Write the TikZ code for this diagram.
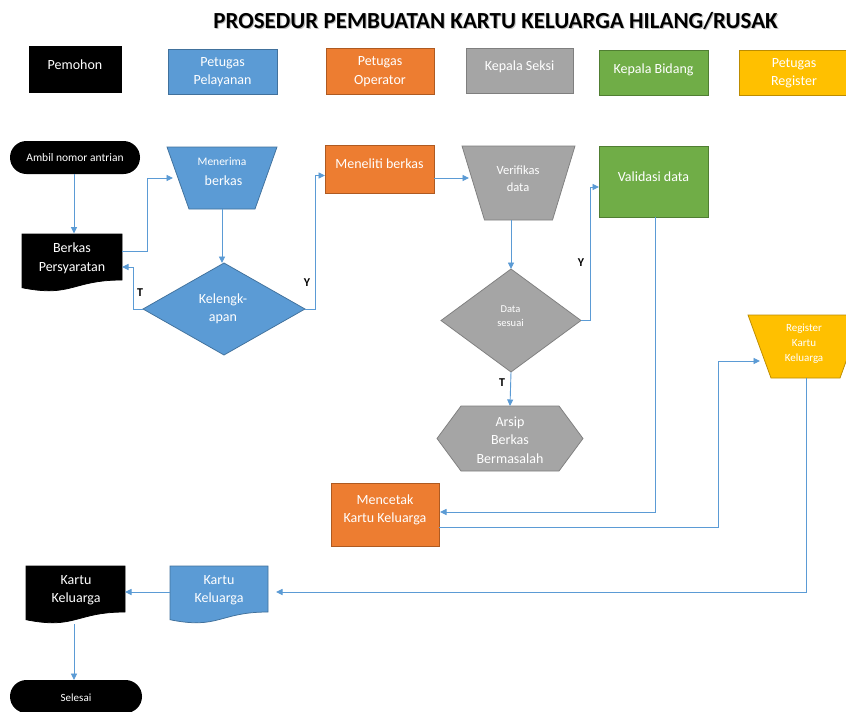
\documentclass[tikz,border=0pt]{standalone}
\usepackage{fontspec}
\setmainfont{Carlito}
\usetikzlibrary{calc,arrows.meta}
\definecolor{blueF}{HTML}{5B9BD5}
\definecolor{blueD}{HTML}{41719C}
\definecolor{orangeF}{HTML}{ED7D31}
\definecolor{orangeD}{HTML}{AE5A21}
\definecolor{grayF}{HTML}{A5A5A5}
\definecolor{grayD}{HTML}{7F7F7F}
\definecolor{greenF}{HTML}{70AD47}
\definecolor{greenD}{HTML}{507E32}
\definecolor{goldF}{HTML}{FFC000}
\definecolor{goldD}{HTML}{BC8C00}
\definecolor{lineC}{HTML}{5B9BD5}
\tikzset{
  frame/.style={rectangle, inner sep=0pt, outer sep=0pt},
  shapeline/.style={line width=0.75pt},
  txt/.style={text=white, inner sep=0pt, align=center, font=\fontsize{14}{18.5}\selectfont},
  smalltxt/.style={text=white, inner sep=0pt, align=center, font=\fontsize{11.5}{15.5}\selectfont},
  tinytxt/.style={text=white, inner sep=0pt, align=center, font=\fontsize{10.5}{14.5}\selectfont},
  conn/.style={draw=lineC, line width=0.9pt, -{Triangle[length=6.5pt,width=6pt]}},
  lbl/.style={inner sep=0pt, font=\fontsize{12}{14}\selectfont\bfseries},
  titlestyle/.style={inner sep=0pt, font=\fontsize{23}{26}\selectfont\bfseries},
}
\newcommand\mytrap[4]{\path[fill=#2,draw=#3,shapeline] (#1.north west) -- (#1.north east) -- ($(#1.south east)+(-#4,0)$) -- ($(#1.south west)+(#4,0)$) -- cycle;}
\newcommand\mydiam[3]{\path[fill=#2,draw=#3,shapeline] (#1.north) -- (#1.east) -- (#1.south) -- (#1.west) -- cycle;}
\newcommand\myhex[4]{\path[fill=#2,draw=#3,shapeline] (#1.west) -- ($(#1.north west)+(#4,0)$) -- ($(#1.north east)+(-#4,0)$) -- (#1.east) -- ($(#1.south east)+(-#4,0)$) -- ($(#1.south west)+(#4,0)$) -- cycle;}
\newcommand\mydocshape[3]{\path[fill=#2,draw=#3,shapeline] (#1.north west) -- (#1.north east) -- ($(#1.north east)!0.8!(#1.south east)$) .. controls ($(#1.north)!0.8!(#1.south)$) and ($(#1.north)!1.108!(#1.south)$) .. ($(#1.north west)!0.934!(#1.south west)$) -- cycle;}
\begin{document}
\begin{tikzpicture}[x=1pt,y=-1pt]
\useasboundingbox (0,0) rectangle (846,712);
\clip (0,0) rectangle (846,712);
\fill[white] (0,0) rectangle (846,712);

% title
\node[titlestyle, text=black!25] (titleS) at (496.6,22.1) {PROSEDUR PEMBUATAN KARTU KELUARGA HILANG/RUSAK};
\node[titlestyle] (title) at (495.5,21) {PROSEDUR PEMBUATAN KARTU KELUARGA HILANG/RUSAK};

% header boxes
\node[frame, fill=black, draw=black, shapeline, minimum width=92pt, minimum height=46pt] (hPemohon) at (75,69) {};
\node[frame, fill=blueF, draw=blueD, shapeline, minimum width=109pt, minimum height=45pt] (hPelayanan) at (222.5,71.5) {};
\node[frame, fill=orangeF, draw=orangeD, shapeline, minimum width=108pt, minimum height=46pt] (hOperator) at (380,71) {};
\node[frame, fill=grayF, draw=grayD, shapeline, minimum width=107pt, minimum height=45pt] (hSeksi) at (519.5,70.5) {};
\node[frame, fill=greenF, draw=greenD, shapeline, minimum width=109pt, minimum height=45pt] (hBidang) at (653.5,72.5) {};
\node[frame, fill=goldF, draw=goldD, shapeline, minimum width=109pt, minimum height=45pt] (hRegister) at (793.5,72.5) {};
\node[txt] (tPemohon) at (75,64.5) {Pemohon};
\node[txt] (tPelayanan) at (222.5,72) {Petugas\\Pelayanan};
\node[txt] (tOperator) at (380,71.5) {Petugas\\Operator};
\node[txt] (tSeksi) at (519.5,66.5) {Kepala Seksi};
\node[txt] (tBidang) at (653.5,69.5) {Kepala Bidang};
\node[txt] (tRegister) at (794,73) {Petugas\\Register};

% flow shapes (anchor frames)
\node[frame, fill=black, rounded corners=16.5pt, minimum width=130pt, minimum height=33pt, smalltxt] (ambil) at (75,157.5) {Ambil nomor antrian};
\node[frame, minimum width=100pt, minimum height=57.5pt] (berkas) at (72,262.75) {};
\node[frame, minimum width=110pt, minimum height=62pt] (menerima) at (222,178) {};
\node[frame, minimum width=162pt, minimum height=92pt] (kelengkapan) at (224,309) {};
\node[frame, fill=orangeF, draw=orangeD, shapeline, minimum width=109pt, minimum height=48pt] (meneliti) at (379.5,169) {};
\node[frame, minimum width=113pt, minimum height=74pt] (verifikas) at (518.5,183) {};
\node[frame, minimum width=140pt, minimum height=103pt] (datasesuai) at (511,320.5) {};
\node[frame, minimum width=146pt, minimum height=65pt] (arsip) at (510,438.5) {};
\node[frame, fill=greenF, draw=greenD, shapeline, minimum width=109pt, minimum height=71pt] (validasi) at (653.5,181.5) {};
\node[frame, minimum width=115pt, minimum height=63pt] (register) at (805.5,346.5) {};
\node[frame, fill=orangeF, draw=orangeD, shapeline, minimum width=108pt, minimum height=63pt] (mencetak) at (385,514.5) {};
\node[frame, minimum width=98pt, minimum height=57.5pt] (kkBlue) at (219,594.75) {};
\node[frame, minimum width=99pt, minimum height=57.5pt] (kkBlack) at (75.5,594.75) {};
\node[frame, fill=black, rounded corners=16.5pt, minimum width=132pt, minimum height=33pt] (selesai) at (76,696.5) {};

\mydocshape{berkas}{black}{black}
\mytrap{menerima}{blueF}{blueD}{22}
\mydiam{kelengkapan}{blueF}{blueD}
\mytrap{verifikas}{grayF}{grayD}{22.5}
\mydiam{datasesuai}{grayF}{grayD}
\myhex{arsip}{grayF}{grayD}{24}
\mytrap{register}{goldF}{goldD}{23}
\mydocshape{kkBlue}{blueF}{blueD}
\mydocshape{kkBlack}{black}{black}

% texts
\node[txt] (tBerkas) at (72,258.5) {Berkas\\Persyaratan};
\node[smalltxt] (tMenerima) at (222,162) {Menerima};
\node[txt] (tMenerima2) at (223.5,180.5) {berkas};
\node[txt] (tKelengkapan) at (223,309) {Kelengk-\\apan};
\node[txt] (tMeneliti) at (379.5,164) {Meneliti berkas};
\node[inner sep=0pt, align=center, text=white, font=\fontsize{12.5}{16.5}\selectfont] (tVerifikas) at (518,178.5) {Verifikas\\data};
\node[tinytxt] (tData) at (510.5,316) {Data\\sesuai};
\node[txt] (tArsip) at (510,440) {Arsip\\Berkas\\Bermasalah};
\node[txt] (tValidasi) at (653.5,177) {Validasi data};
\node[smalltxt, font=\fontsize{11}{15}\selectfont] (tRegister2) at (804,343.5) {Register\\Kartu\\Keluarga};
\node[txt] (tMencetak) at (385,510) {Mencetak\\Kartu Keluarga};
\node[txt] (tkkBlue) at (219,590) {Kartu\\Keluarga};
\node[txt] (tkkBlack) at (76,590) {Kartu\\Keluarga};
\node[smalltxt, font=\fontsize{11}{14}\selectfont] (tSelesai) at (76,698) {Selesai};

% connectors
\draw[conn] (ambil.south -| berkas.north) ++(2,0) -- ++(0,59.5);
\draw[conn] ($(berkas.north east)+(0,17)$) -- ++(25,0) |- ($(menerima.west)+(6,0)$);
\draw[conn] (menerima.south) -- (menerima.south |- kelengkapan.north);
\draw[conn] (kelengkapan.west) -- ++(-10,0) |- ($(berkas.north east)+(0,33)$);
\draw[conn] (kelengkapan.east) -- ++(10,0) |- ($(meneliti.north west)+(0,30.5)$);
\draw[conn] ($(meneliti.north east)+(0,33)$) -- ($(verifikas.north west)+(7,32)$);
\draw[conn] (datasesuai.north |- verifikas.south) -- (datasesuai.north);
\draw[conn] (datasesuai.east) -- ++(9,0) |- ($(validasi.north west)+(0,41)$);
\draw[conn] (datasesuai.south) -- (arsip.north);
\draw[conn] ($(validasi.south)+(2,0)$) |- ($(mencetak.north east)+(1,29)$);
\draw[conn] ($(mencetak.north east)+(0,44)$) -| ($(register.north west)+(-30,46)$) -- ($(register.north west)+(12,46)$);
\draw[conn] ($(register.south)+(1,0)$) |- ($(kkBlue.north east)+(8,26)$);
\draw[conn] ($(kkBlue.north west)+(0,26)$) -- ($(kkBlack.north east)+(0,26)$);
\draw[conn] ($(kkBlack.south)+(-1.5,0.5)$) -- ($(selesai.north)+(-2,0)$);

% labels
\node[lbl] (lT1) at (140,293) {T};
\node[lbl] (lY1) at (307,283) {Y};
\node[lbl] (lY2) at (581,263) {Y};
\node[lbl] (lT2) at (502,383) {T};
\end{tikzpicture}
\end{document}
